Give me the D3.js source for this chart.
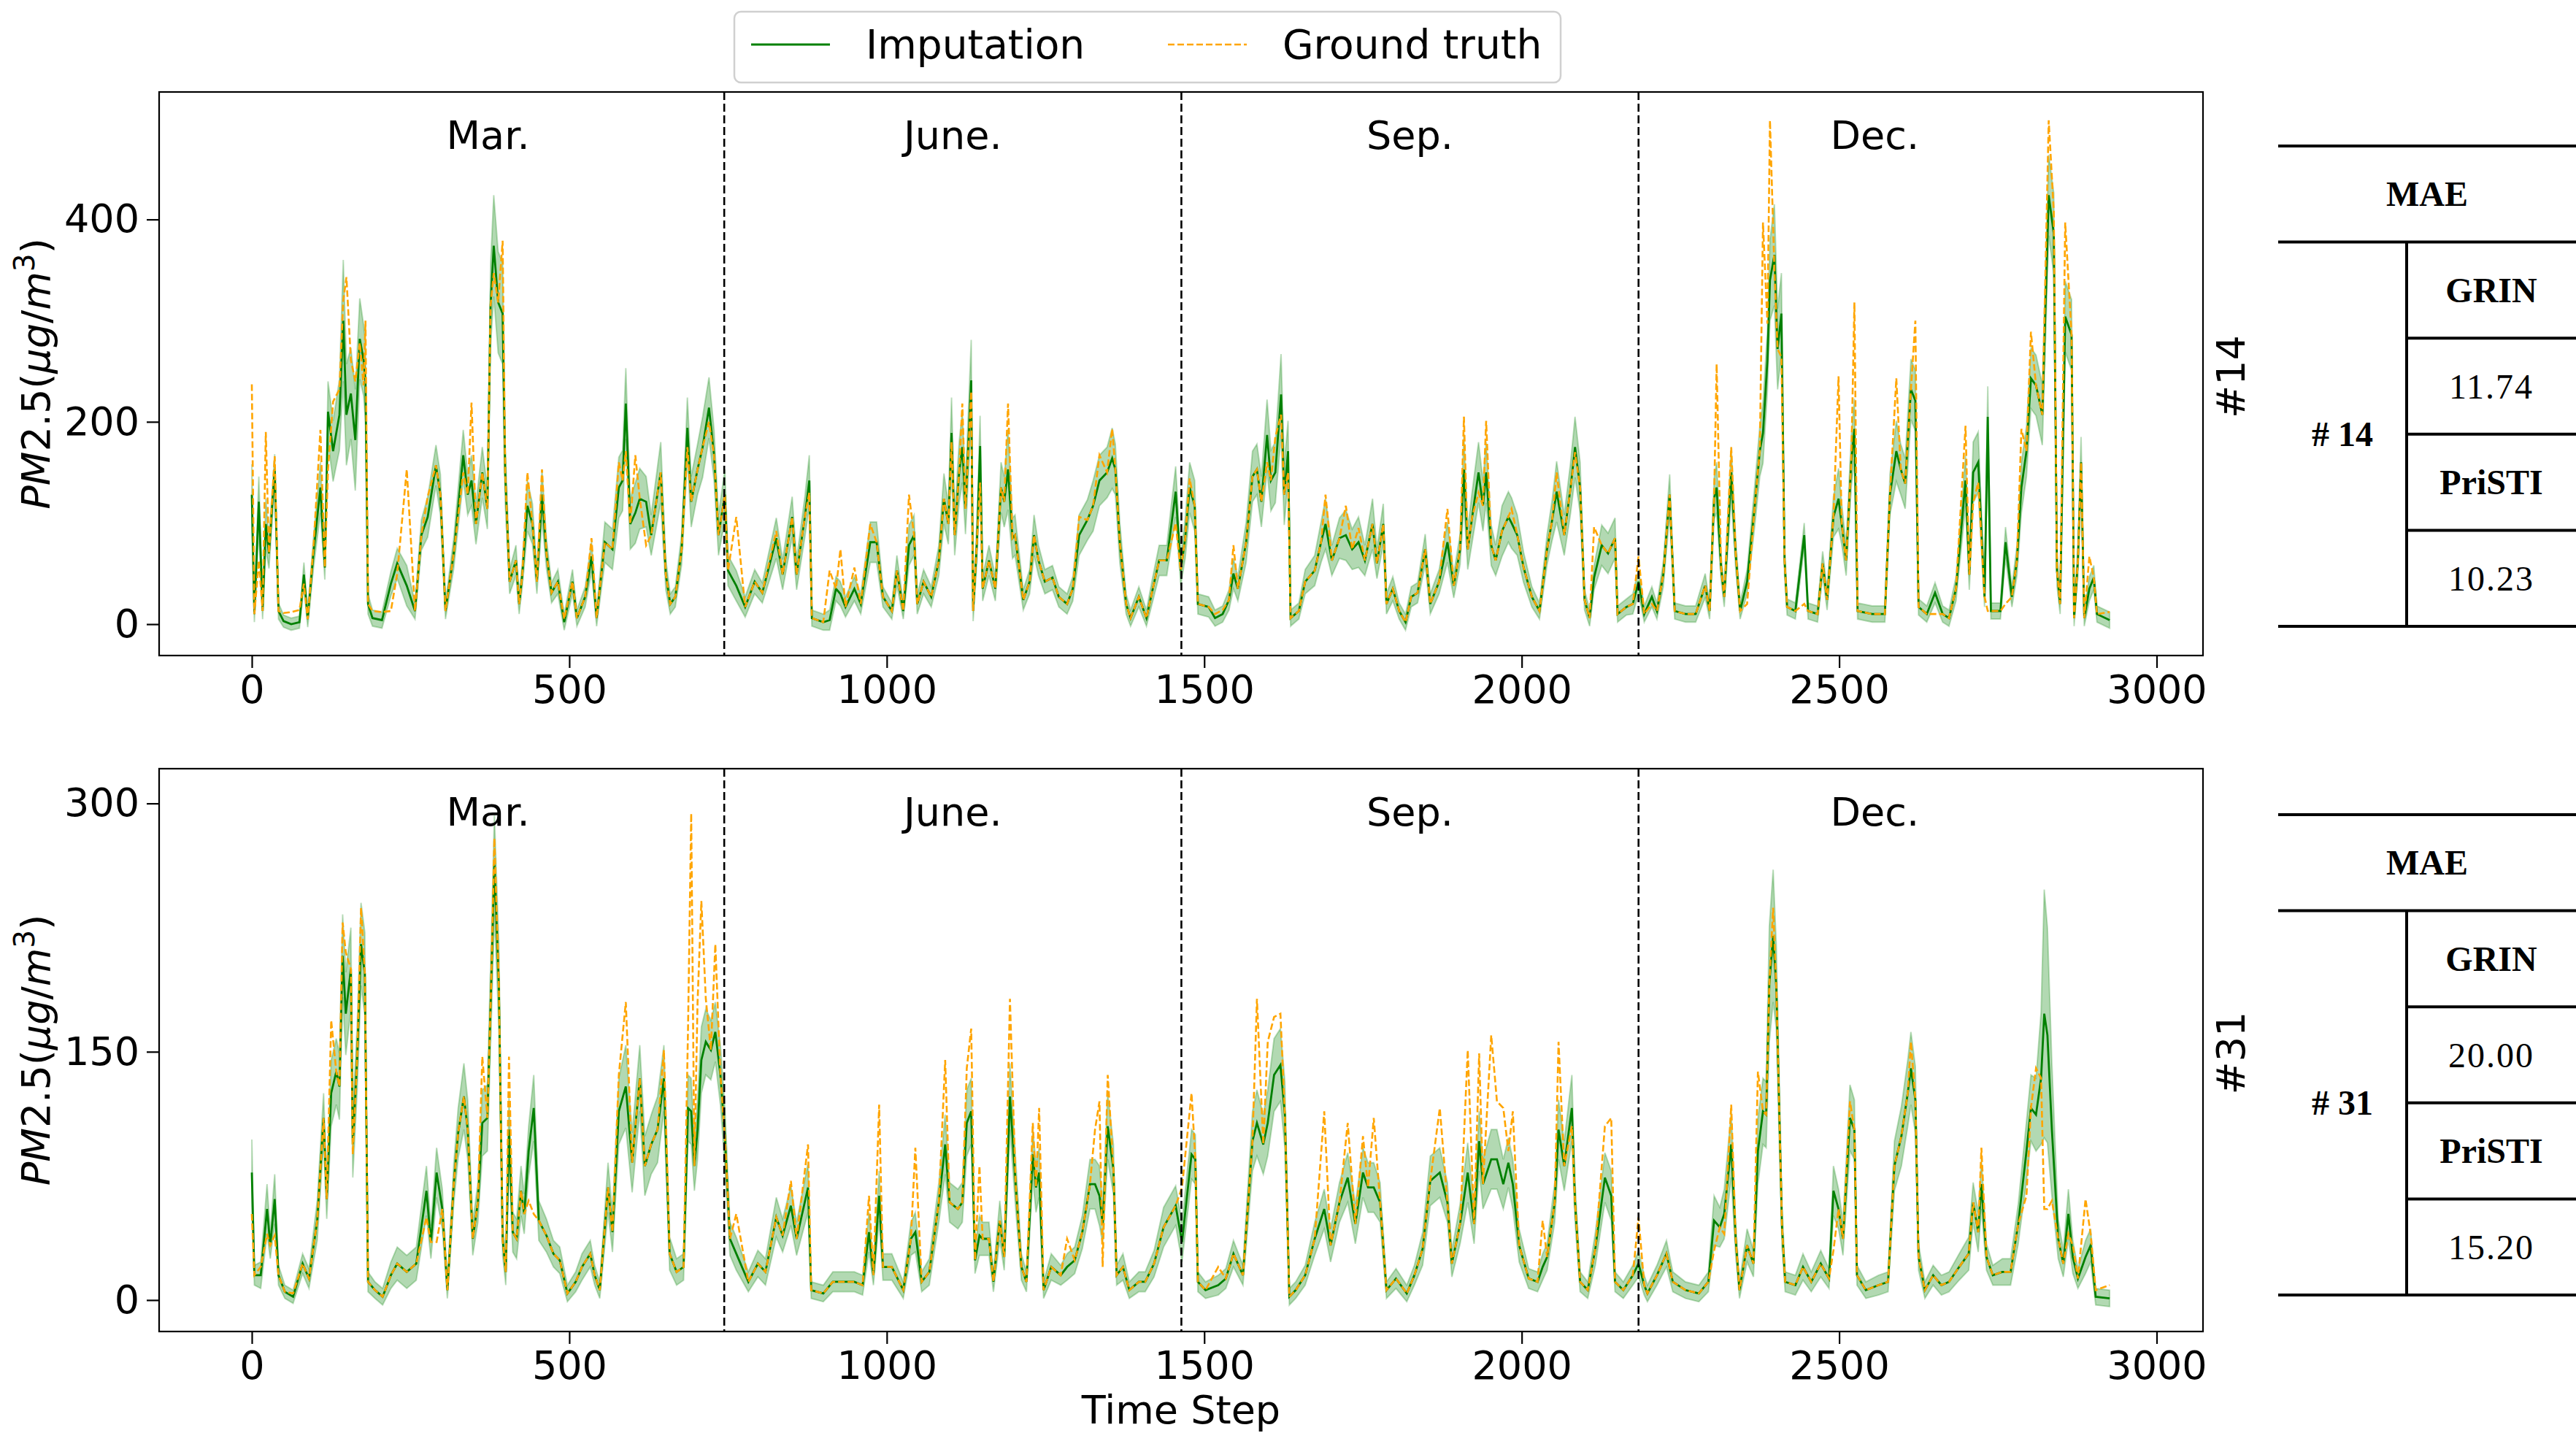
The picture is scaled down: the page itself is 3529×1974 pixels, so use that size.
<!DOCTYPE html>
<html>
<head>
<meta charset="utf-8">
<script src="https://cdn.jsdelivr.net/npm/d3@7"></script>
<style>
body{margin:0;background:#fff;}
svg text{fill:#000;}
.tick text{font-family:"DejaVu Sans";font-size:54px;}
.tick line{stroke:#000;stroke-width:2.2;}
.lbl{font-family:"DejaVu Sans";font-size:54px;}
.leg{font-family:"DejaVu Sans";font-size:55px;}
.tbl{font-family:"Liberation Serif";font-size:48px;}
</style>
</head>
<body>
<div id="chart"></div>
<script>
// time steps / tick labels
var xTicks = [0,500,1000,1500,2000,2500,3000];
var monthNames = ["Mar.","June.","Sep.","Dec."];
var monthEdges = [0,744,1464,2184,2928];
var seriesNames = ["Imputation","Ground truth"];

// station #14
var stepsA = [
0,4,11,17,22,27,36,42,50,62,75,82,88,97,108,115,120,128,138,144,
149,156,163,170,176,179,183,190,205,219,229,244,257,267,277,290,297,305,318,333,
340,346,353,363,371,376,381,388,395,399,406,416,421,426,434,442,449,457,464,472,
482,492,505,512,525,535,543,556,568,578,584,589,596,604,611,621,629,644,652,659,
667,677,686,692,702,710,720,728,735,745,
750,763,777,792,804,826,836,851,858,871,878,882,900,910,920,927,935,949,959,974,
984,994,1008,1016,1026,1035,1043,1048,1058,1070,1082,1090,1097,1102,1107,1114,1119,1124,1133,1136,
1142,1147,1151,1161,1171,1180,1185,1191,1198,1202,1215,1225,1232,1239,1249,1261,1271,1284,1293,1303,
1316,1325,1335,1347,1355,1360,1367,1377,1384,1397,1409,1419,1429,1441,1455,1463,1470,1477,1485,
1490,1507,1517,1529,1539,1546,1553,1566,1576,1583,1590,1599,1605,1612,1621,1626,1632,1636,1649,1659,
1674,1684,1691,1701,1713,1723,1733,1743,1753,1765,1772,1782,1787,1797,1807,1817,1826,1836,1848,1856,
1870,1883,1893,1903,1909,1915,1922,1932,1939,1944,1952,1959,1969,1979,1984,1993,2003,2016,2028,2040,
2048,2055,2067,2077,2084,2092,2099,2107,2114,2126,2136,2147,2151,2165,2175,2184,
2193,2205,2213,2223,2233,2241,2258,2274,2289,2296,2303,2307,2314,2319,2330,2337,2344,2355,2367,2375,
2380,2387,2391,2398,2403,2409,2414,2418,2431,2445,2451,2466,2474,2481,2491,2499,2504,2511,2519,2524,
2529,2552,2572,2580,2590,2597,2604,2613,2620,2625,2638,2651,2663,2673,2684,2699,2705,2711,2719,2729,
2734,2739,2754,2762,2772,2780,2787,2795,2802,2810,2820,2830,2838,2843,2848,2856,2866,2870,2876,2881,
2886,2894,2901,2906,2926];
var truthA = [
237,10,63,13,190,70,166,13,11,12,14,40,5,75,192,56,153,220,232,320,
343,261,240,278,236,300,20,13,12,13,50,153,13,88,126,157,128,13,70,150,
128,219,99,150,114,315,347,318,379,150,42,63,20,49,150,99,42,153,70,31,
42,5,42,6,27,85,6,81,74,160,142,171,99,167,124,78,88,150,49,20,
27,74,175,121,153,175,200,167,88,128,
53,106,17,42,31,92,49,106,49,106,130,6,2,53,35,74,17,56,20,99,
81,27,13,53,13,128,88,20,42,27,63,124,99,180,88,150,218,114,230,13,
81,140,35,63,35,135,121,218,85,88,24,42,88,63,42,46,27,20,35,106,
103,117,167,150,193,153,81,20,6,27,6,35,63,63,100,53,85,144,117,
20,17,10,14,24,78,35,81,146,153,121,160,142,185,207,128,150,6,13,42,
53,81,128,63,85,117,74,95,63,99,60,99,20,35,13,2,27,31,74,20,
42,114,38,74,205,74,106,130,117,201,78,63,92,106,114,88,56,27,13,74,
103,150,88,135,170,135,24,6,96,78,70,85,10,17,20,67,
10,20,13,49,128,13,10,10,38,13,124,257,56,27,175,70,13,20,117,171,
397,297,498,350,272,264,63,17,13,20,13,10,60,24,106,245,99,63,160,318,
13,10,10,128,243,153,139,232,300,17,10,10,10,6,35,196,49,120,140,27,
13,13,13,20,27,63,193,171,289,236,207,498,408,53,20,397,286,6,63,160,
6,67,46,10,12];
var imputA = [
128,10,121,13,99,70,153,13,3,0,2,49,5,70,135,56,210,171,207,300,
207,228,182,282,261,240,20,6,4,40,60,38,13,88,106,157,128,13,70,167,
128,142,99,150,114,315,374,318,307,150,42,63,20,49,117,99,42,128,70,31,
42,2,42,6,27,67,6,81,74,135,142,218,99,110,124,121,88,150,49,20,
27,74,194,121,153,175,214,167,88,128,
53,38,17,42,31,85,49,106,49,106,142,6,2,4,35,30,17,35,20,81,
81,27,13,53,13,78,88,20,42,27,63,124,99,189,88,150,175,114,241,13,
81,176,35,63,35,135,121,153,85,88,24,42,88,63,42,46,27,20,35,88,
103,117,142,150,164,153,81,20,6,27,6,35,63,63,131,53,85,135,117,
20,17,6,10,24,50,35,81,146,153,121,187,142,150,227,128,171,6,13,42,
53,81,99,63,85,88,74,81,63,99,60,99,20,35,13,2,27,31,74,20,
42,81,38,74,153,74,106,150,117,150,78,63,92,106,100,88,56,27,13,74,
103,131,88,135,175,135,24,6,46,78,70,85,10,17,20,42,
10,27,13,49,128,13,10,10,38,13,124,135,56,27,150,70,13,42,117,171,
189,261,340,365,272,307,63,17,13,88,13,10,60,24,106,124,99,63,160,193,
13,10,10,128,171,153,139,232,221,17,10,31,10,6,35,142,49,150,160,27,
205,13,13,81,27,63,135,171,243,236,207,424,386,53,20,304,286,6,63,160,
6,35,46,10,4];
// half width of the shaded band
var bandA = [
30,8,25,8,25,15,15,8,6,6,6,12,8,15,25,12,30,30,35,60,
50,45,50,40,35,40,10,8,8,12,15,20,8,15,20,20,20,8,15,25,
20,25,20,25,20,40,50,50,50,30,12,15,10,12,25,20,12,25,15,10,
12,8,12,8,10,15,8,20,20,30,30,35,25,30,30,25,20,30,15,10,
10,15,30,25,25,30,30,25,20,25,
15,15,10,12,10,20,15,20,15,20,25,8,8,10,12,12,10,12,10,20,
20,10,8,15,8,20,20,10,12,10,15,25,20,35,20,30,35,25,40,10,
20,30,12,15,12,25,25,40,20,20,10,12,20,15,12,12,10,10,12,20,
20,25,25,25,30,25,20,10,8,10,8,12,15,15,25,15,20,25,25,
10,10,8,8,10,15,12,20,25,25,25,35,30,30,40,30,30,8,8,12,
15,20,25,15,20,25,20,25,15,25,15,20,10,12,8,8,10,10,15,10,
12,20,12,15,35,20,25,30,25,30,20,15,25,25,25,20,15,10,8,15,
20,30,20,25,30,25,10,8,12,20,20,20,8,8,10,12,
8,10,8,12,20,8,8,8,12,8,20,25,12,10,25,15,8,12,20,25,
30,30,40,50,40,40,15,8,8,12,8,8,12,10,20,30,20,15,25,30,
8,8,8,20,30,25,25,30,30,8,8,10,8,8,12,25,15,30,30,10,
30,8,8,15,10,15,25,25,30,30,30,40,40,15,10,35,35,8,15,25,
8,12,12,8,8];

// station #31
var stepsB = [
0,4,14,24,29,36,42,52,65,80,90,103,113,118,125,133,138,143,148,156,
159,166,172,178,183,194,206,219,229,244,259,275,282,291,300,308,318,325,334,340,
348,356,363,371,377,382,389,395,400,405,411,417,424,429,436,444,452,464,475,485,
497,510,520,533,540,548,561,568,578,589,599,611,619,629,639,649,658,669,680,687,
692,697,702,708,715,723,730,738,745,753,
763,782,797,809,826,836,849,858,876,881,900,915,930,949,962,972,979,988,994,1008,
1026,1038,1045,1055,1067,1082,1092,1099,1112,1119,1126,1133,1139,1146,1151,1161,1168,1178,1185,1194,
1203,1212,1220,1230,1235,1240,1247,1259,1274,1284,1296,1308,1320,1328,1335,1340,1348,1357,1362,1372,
1382,1397,1407,1421,1436,1455,1465,1480,1486,
1490,1502,1522,1534,1546,1561,1576,1583,1593,1600,1610,1620,1627,1634,1644,1659,1674,1689,1699,1713,
1726,1738,1750,1758,1767,1777,1787,1802,1819,1831,1844,1856,1871,1883,1890,1903,1915,1925,1933,1939,
1952,1961,1971,1979,1986,1996,2011,2025,2033,2040,2052,2058,2067,2079,2084,2092,2104,2116,2131,2141,
2147,2160,2175,2184,2193,
2198,2213,2228,2238,2258,2279,2294,2303,2312,2319,2330,2337,2343,2355,2365,2372,2380,2385,2390,2396,
2401,2405,2410,2415,2431,2443,2456,2471,2484,2491,2499,2506,2517,2524,2528,2542,2562,2577,2587,2598,
2608,2613,2620,2625,2635,2648,2661,2673,2689,2704,2711,2719,2724,2732,2742,2757,2770,2782,2795,2802,
2810,2818,2823,2828,2835,2845,2853,2861,2868,2876,2888,2896,2904,2926];
var truthB = [
52,15,20,40,33,39,15,5,4,22,13,48,110,61,169,138,129,228,210,200,
88,147,237,197,11,6,2,15,22,17,22,50,35,35,55,6,70,101,123,103,
37,59,147,110,191,279,191,37,17,147,41,37,66,52,60,52,48,39,28,24,
4,11,20,28,15,6,68,41,136,180,83,134,81,94,103,151,28,17,20,164,
294,81,180,241,182,151,215,136,99,37,
52,11,22,17,50,39,72,37,94,6,4,11,11,11,9,63,15,118,20,20,
6,37,92,11,17,59,145,59,55,59,140,164,24,81,37,37,11,48,26,182,
70,20,11,107,68,116,6,20,15,37,24,41,70,103,120,20,136,79,15,20,
6,11,11,22,44,57,68,125,85,
11,6,20,13,28,15,96,182,94,156,171,173,112,2,6,15,37,114,33,59,
107,46,99,68,110,59,6,13,4,15,31,72,116,59,22,46,151,46,149,70,
160,120,116,90,114,33,13,11,48,26,59,156,81,105,59,11,6,31,105,110,
11,6,15,50,9,
4,15,28,11,6,4,11,30,44,40,118,37,6,33,22,138,114,112,191,237,
189,125,44,11,9,20,11,22,13,30,55,37,120,103,15,6,9,11,81,99,
125,156,121,26,6,15,9,11,20,28,59,41,92,26,15,17,17,46,63,116,
140,134,55,55,60,37,22,40,33,13,61,40,6,9];
var imputB = [
77,15,15,55,33,61,15,5,2,22,13,48,110,61,125,138,129,208,173,200,
94,147,215,197,11,6,2,15,22,17,22,66,35,77,55,6,70,101,123,103,
37,59,107,110,191,263,191,37,17,103,41,37,66,52,90,116,48,39,28,24,
4,11,20,28,15,6,68,41,114,129,83,134,81,94,103,134,28,17,20,116,
114,81,103,145,156,151,162,136,99,37,
28,11,22,17,50,39,57,37,68,6,4,11,11,11,9,41,15,63,20,20,
6,37,41,11,17,59,94,59,55,59,107,114,24,39,37,37,11,48,26,123,
70,20,11,88,68,77,6,20,15,20,24,41,70,70,63,46,105,79,15,20,
6,11,11,22,44,57,35,88,85,
11,6,9,13,28,15,96,107,94,107,136,142,112,2,6,15,37,55,33,59,
74,46,77,68,68,59,6,13,4,15,31,72,77,59,22,46,77,46,96,70,
85,85,70,83,70,33,13,11,20,26,59,103,81,116,59,11,6,31,74,63,
11,6,15,22,9,
4,15,28,11,6,4,11,48,44,52,94,37,6,33,22,90,114,112,191,220,
189,125,44,11,9,20,11,22,13,66,55,37,110,103,15,6,9,11,81,99,
125,140,121,26,6,15,9,11,20,28,59,41,70,26,15,17,17,46,90,116,
112,134,173,160,103,37,22,52,26,13,26,33,2,1];
var bandB = [
20,6,8,15,8,15,6,4,4,6,6,12,15,12,20,20,20,25,25,25,
20,20,25,25,6,5,5,8,10,10,10,15,10,15,12,5,12,15,20,18,
10,12,20,20,25,30,25,10,8,20,12,12,15,12,15,20,12,10,8,8,
5,6,8,8,6,5,15,12,20,25,18,20,18,18,20,20,10,8,8,20,
20,15,18,20,20,18,18,18,18,10,
10,6,8,8,12,10,12,10,15,5,5,6,6,6,6,12,6,15,8,8,
5,10,12,6,8,12,18,12,12,12,20,20,8,12,10,10,6,12,8,20,
15,8,6,15,15,15,5,8,6,8,8,10,15,15,18,12,20,15,6,8,
5,6,6,8,12,12,12,15,15,
6,5,6,6,8,6,18,20,18,20,22,22,20,5,5,6,10,12,10,12,
15,12,15,15,15,12,5,6,5,6,10,15,15,12,8,12,18,12,18,15,
18,18,15,15,15,10,6,6,8,8,12,18,15,20,12,6,5,10,15,15,
6,5,6,8,6,
5,6,8,6,5,5,6,15,12,15,20,10,5,10,8,20,20,20,35,40,
25,20,12,6,6,8,6,8,6,15,12,10,20,18,6,5,6,6,15,18,
20,22,20,8,5,6,6,6,8,10,12,12,15,8,6,8,8,12,18,20,
22,40,75,65,40,12,8,15,10,6,10,10,5,5];

// MAE table
var maeNodes = ["14","31"];
var maeGrin = ["11.74","20.00"];
var maePristi = ["10.23","15.20"];

var W = 3529, H = 1974;
var svg = d3.select("#chart").append("svg")
	.attr("width", W)
	.attr("height", H);

var x = d3.scaleLinear().domain([-146, 3073]).range([218, 3018]);

var panels = [
	{steps: stepsA, truth: truthA, imp: imputA, band: bandA, yDomain: [-31, 526], yTicks: [0,200,400], top: 126, bottom: 898},
	{steps: stepsB, truth: truthB, imp: imputB, band: bandB, yDomain: [-19, 321], yTicks: [0,150,300], top: 1053, bottom: 1824}
];

panels.forEach(function(p, pi){
	var y = d3.scaleLinear().domain(p.yDomain).range([p.bottom, p.top]);
	var n = Math.min(p.steps.length, p.truth.length, p.imp.length, p.band.length);
	var rows = d3.range(n).map(function(i){
		return {t: p.steps[i], gt: p.truth[i], im: p.imp[i], s: p.band[i]};
	});
	var g = svg.append("g");

	g.append("clipPath").attr("id", "clip" + pi)
		.append("rect")
		.attr("x", 218).attr("y", p.top)
		.attr("width", 2800).attr("height", p.bottom - p.top);

	var plot = g.append("g").attr("clip-path", "url(#clip" + pi + ")");

	var area = d3.area()
		.x(function(d){ return x(d.t); })
		.y0(function(d){ return y(d.im - d.s); })
		.y1(function(d){ return y(d.im + d.s); });
	plot.append("path")
		.datum(rows)
		.attr("d", area)
		.attr("fill", "green")
		.attr("fill-opacity", 0.3)
		.attr("stroke", "green")
		.attr("stroke-opacity", 0.25)
		.attr("stroke-width", 2);

	var lineImp = d3.line()
		.x(function(d){ return x(d.t); })
		.y(function(d){ return y(d.im); });
	plot.append("path")
		.datum(rows)
		.attr("d", lineImp)
		.attr("fill", "none")
		.attr("stroke", "green")
		.attr("stroke-width", 2.8);

	var lineTruth = d3.line()
		.x(function(d){ return x(d.t); })
		.y(function(d){ return y(d.gt); });
	plot.append("path")
		.datum(rows)
		.attr("d", lineTruth)
		.attr("fill", "none")
		.attr("stroke", "orange")
		.attr("stroke-width", 2.6)
		.attr("stroke-dasharray", "9,4");

	// month separators
	for(var i = 1; i < 4; i++){
		g.append("line")
			.attr("x1", x(monthEdges[i])).attr("x2", x(monthEdges[i]))
			.attr("y1", p.top).attr("y2", p.bottom)
			.attr("stroke", "#000")
			.attr("stroke-width", 2.6)
			.attr("stroke-dasharray", "11,5");
	}
	for(var i = 0; i < 4; i++){
		g.append("text")
			.attr("class", "lbl")
			.attr("x", x((monthEdges[i] + monthEdges[i+1]) / 2))
			.attr("y", p.top + 59)
			.attr("text-anchor", "middle")
			.attr("dominant-baseline", "central")
			.text(monthNames[i]);
	}

	g.append("rect")
		.attr("x", 218).attr("y", p.top)
		.attr("width", 2800).attr("height", p.bottom - p.top)
		.attr("fill", "none")
		.attr("stroke", "#000")
		.attr("stroke-width", 2.2);

	var xAxis = g.append("g")
		.attr("transform", "translate(0," + p.bottom + ")")
		.call(d3.axisBottom(x).tickValues(xTicks).tickFormat(d3.format("d")).tickSize(17).tickPadding(10));
	xAxis.select(".domain").remove();

	var yAxis = g.append("g")
		.attr("transform", "translate(218,0)")
		.call(d3.axisLeft(y).tickValues(p.yTicks).tickFormat(d3.format("d")).tickSize(17).tickPadding(10));
	yAxis.select(".domain").remove();

	// y label PM2.5(ug/m3)
	var cy = (p.top + p.bottom) / 2;
	var yl = g.append("text")
		.attr("class", "lbl")
		.attr("font-size", "56px")
		.attr("transform", "translate(68," + cy + ") rotate(-90)")
		.attr("text-anchor", "middle");
	yl.append("tspan").attr("font-style", "italic").text("PM");
	yl.append("tspan").text("2.5(");
	yl.append("tspan").attr("font-style", "italic").text("\u03bcg");
	yl.append("tspan").text("/");
	yl.append("tspan").attr("font-style", "italic").text("m");
	yl.append("tspan").attr("dy", -21).attr("font-size", "39px").text("3");
	yl.append("tspan").attr("dy", 21).text(")");

	// station label on the right
	g.append("text")
		.attr("class", "lbl")
		.attr("transform", "translate(3056," + (cy + 4) + ") rotate(-90)")
		.attr("text-anchor", "middle")
		.attr("dominant-baseline", "central")
		.text("#" + maeNodes[pi]);

	// MAE table
	var t0 = 200 + pi * 916;
	var rowH = 131.6;
	var tg = g.append("g");
	[0,1,5].forEach(function(k){
		tg.append("line")
			.attr("x1", 3121).attr("x2", 3529)
			.attr("y1", t0 + k * rowH).attr("y2", t0 + k * rowH)
			.attr("stroke", "#000").attr("stroke-width", 4);
	});
	[2,3,4].forEach(function(k){
		tg.append("line")
			.attr("x1", 3297).attr("x2", 3529)
			.attr("y1", t0 + k * rowH).attr("y2", t0 + k * rowH)
			.attr("stroke", "#000").attr("stroke-width", 4);
	});
	tg.append("line")
		.attr("x1", 3297).attr("x2", 3297)
		.attr("y1", t0 + rowH).attr("y2", t0 + 5 * rowH)
		.attr("stroke", "#000").attr("stroke-width", 4);
	var cells = [
		{x: 3325, r: 0, s: "MAE", b: true},
		{x: 3413, r: 1, s: "GRIN", b: true},
		{x: 3413, r: 2, s: maeGrin[pi], b: false},
		{x: 3413, r: 3, s: "PriSTI", b: true},
		{x: 3413, r: 4, s: maePristi[pi], b: false},
		{x: 3209, r: 2.5, s: "# " + maeNodes[pi], b: true}
	];
	cells.forEach(function(c){
		tg.append("text")
			.attr("class", "tbl")
			.attr("x", c.x)
			.attr("y", t0 + (c.r + 0.5) * rowH)
			.attr("text-anchor", "middle")
			.attr("dominant-baseline", "central")
			.attr("font-weight", c.b ? "bold" : "normal")
			.attr("letter-spacing", c.b ? 0 : 2)
			.text(c.s);
	});
});

svg.append("text")
	.attr("class", "lbl")
	.attr("font-size", "55px")
	.attr("x", 1618)
	.attr("y", 1931)
	.attr("text-anchor", "middle")
	.attr("dominant-baseline", "central")
	.text("Time Step");

// legend
var leg = svg.append("g");
leg.append("rect")
	.attr("x", 1006).attr("y", 16)
	.attr("width", 1132).attr("height", 97)
	.attr("rx", 9)
	.attr("fill", "#fff")
	.attr("stroke", "#d0d0d0")
	.attr("stroke-width", 2.5);
var legX = [1029, 1600];
var legColor = ["green", "orange"];
seriesNames.forEach(function(name, i){
	leg.append("line")
		.attr("x1", legX[i]).attr("x2", legX[i] + 108)
		.attr("y1", 61).attr("y2", 61)
		.attr("stroke", legColor[i])
		.attr("stroke-width", i == 0 ? 2.8 : 2.6)
		.attr("stroke-dasharray", i == 0 ? null : "9,4");
	leg.append("text")
		.attr("class", "leg")
		.attr("x", legX[i] + 157)
		.attr("y", 61)
		.attr("dominant-baseline", "central")
		.text(name);
});
</script>
</body>
</html>
